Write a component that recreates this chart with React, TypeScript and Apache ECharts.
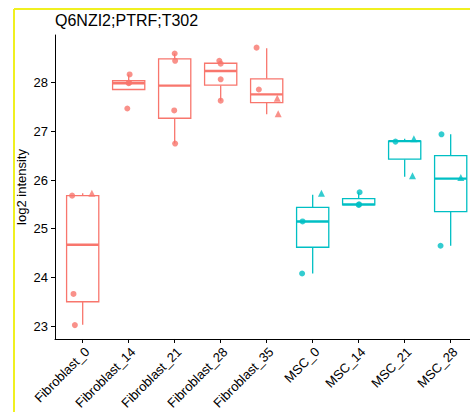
import React, { useEffect, useRef } from "react";
import * as echarts from "echarts";

const categories = [
  "Fibroblast_0", "Fibroblast_14", "Fibroblast_21", "Fibroblast_28", "Fibroblast_35",
  "MSC_0", "MSC_14", "MSC_21", "MSC_28",
];
const groupOf = ["F", "F", "F", "F", "F", "M", "M", "M", "M"];

// box statistics
const boxLow = [23.03, 27.86, 26.75, 27.63, 27.35, 24.08, 25.49, 26.07, 24.65];
const boxQ1 = [23.5, 27.86, 27.27, 27.95, 27.59, 24.62, 25.49, 26.43, 25.35];
const boxMedian = [24.67, 27.99, 27.94, 28.24, 27.76, 25.15, 25.5, 26.8, 26.03];
const boxQ3 = [25.68, 28.04, 28.49, 28.4, 28.08, 25.44, 25.62, 26.8, 26.5];
const boxHigh = [25.73, 28.17, 28.6, 28.45, 28.71, 25.7, 25.75, 26.85, 26.94];

// individual points: [category index, value, horizontal jitter (category units), shape]
const points: [number, number, number, string][] = [
  [0, 25.68, -0.23, "circle"], [0, 25.73, 0.2, "triangle"], [0, 23.66, -0.2, "circle"], [0, 23.02, -0.17, "circle"],
  [1, 28.17, 0.02, "circle"], [1, 27.99, 0.0, "circle"], [1, 28.0, 0.01, "circle"], [1, 27.47, -0.03, "circle"],
  [2, 28.6, 0.0, "circle"], [2, 28.45, 0.01, "circle"], [2, 27.43, -0.01, "circle"], [2, 26.75, 0.01, "circle"],
  [3, 28.45, -0.03, "circle"], [3, 28.39, 0.0, "circle"], [3, 28.07, 0.0, "circle"], [3, 27.63, 0.0, "circle"],
  [4, 28.72, -0.22, "circle"], [4, 27.86, -0.17, "circle"], [4, 27.68, 0.23, "triangle"], [4, 27.36, 0.25, "triangle"],
  [5, 25.73, 0.19, "triangle"], [5, 25.15, -0.22, "circle"], [5, 24.08, -0.23, "circle"],
  [6, 25.75, 0.02, "circle"], [6, 25.5, 0.01, "circle"], [6, 25.49, 0.0, "circle"],
  [7, 26.79, -0.2, "circle"], [7, 26.85, 0.2, "triangle"], [7, 26.09, 0.17, "triangle"],
  [8, 26.94, -0.2, "circle"], [8, 26.05, 0.22, "triangle"], [8, 24.65, -0.22, "circle"],
];

const yTicks = [23, 24, 25, 26, 27, 28];

const RED = "#F8766D";
const TEAL = "#00BFC4";
const FONT = "'Liberation Sans', Arial, sans-serif";

export default function App() {
  const ref = useRef<HTMLDivElement>(null);
  useEffect(() => {
    if (!ref.current) return;
    const chart = echarts.init(ref.current, undefined, { renderer: "svg" });
    const colorOf = (i: number) => (groupOf[i] === "F" ? RED : TEAL);
    const boxData = categories.map((_, i) => [i + 1, boxLow[i], boxQ1[i], boxMedian[i], boxQ3[i], boxHigh[i]]);
    const mkPts = (shape: string) =>
      points
        .filter((p) => p[3] === shape)
        .map((p) => ({ value: [p[0] + 1 + p[2], p[1]], itemStyle: { color: colorOf(p[0]) } }));
    const halfW = 0.35;
    chart.setOption({
      animation: false,
      backgroundColor: "#ffffff",
      textStyle: { fontFamily: FONT },
      title: {
        text: "Q6NZI2;PTRF;T302",
        left: 55,
        top: 12,
        padding: 0,
        textStyle: { fontSize: 16, fontWeight: "normal", color: "#000", fontFamily: FONT },
      },
      grid: { left: 55, right: 0, top: 35, bottom: 71 },
      xAxis: {
        type: "value",
        min: 0.398,
        max: 9.42,
        splitLine: { show: false },
        axisLine: { show: true, lineStyle: { color: "#000", width: 1 } },
        axisTick: { show: true, length: 4, customValues: categories.map((_, i) => i + 1), lineStyle: { color: "#000" } },
        axisLabel: {
          customValues: categories.map((_, i) => i + 1),
          formatter: (v: number) => categories[Math.round(v) - 1] ?? "",
          rotate: 45,
          margin: 6,
          fontSize: 13,
          color: "#000",
          verticalAlign: "top",
          fontFamily: FONT,
        },
      },
      yAxis: {
        type: "value",
        min: 22.735,
        max: 28.98,
        name: "log2 intensity",
        nameLocation: "middle",
        nameGap: 27,
        nameMoveOverlap: false,
        nameTextStyle: { fontSize: 13, color: "#000", fontFamily: FONT },
        splitLine: { show: false },
        axisLine: { show: true, lineStyle: { color: "#000", width: 1 } },
        axisTick: { show: true, length: 4, customValues: yTicks, lineStyle: { color: "#000" } },
        axisLabel: { customValues: yTicks, margin: 7, fontSize: 13, color: "#000", fontFamily: FONT },
      },
      graphic: [
        { type: "line", shape: { x1: 14, y1: 9, x2: 470, y2: 9 }, style: { stroke: "#f0f020", lineWidth: 2 }, z: 100 },
        { type: "line", shape: { x1: 14, y1: 9, x2: 14, y2: 412 }, style: { stroke: "#f0f020", lineWidth: 2 }, z: 100 },
      ],
      series: [
        {
          type: "custom",
          data: boxData,
          encode: { x: 0, y: [1, 2, 3, 4, 5] },
          z: 2,
          renderItem: (params: any, api: any) => {
            const x = api.value(0);
            const idx = params.dataIndex;
            const c = colorOf(idx);
            const lo = api.coord([x, api.value(1)]);
            const q1 = api.coord([x, api.value(2)]);
            const med = api.coord([x, api.value(3)]);
            const q3 = api.coord([x, api.value(4)]);
            const hi = api.coord([x, api.value(5)]);
            const left = api.coord([x - halfW, api.value(3)])[0];
            const right = api.coord([x + halfW, api.value(3)])[0];
            const lw = 1.3;
            return {
              type: "group",
              children: [
                { type: "line", shape: { x1: lo[0], y1: lo[1], x2: q1[0], y2: q1[1] }, style: { stroke: c, lineWidth: lw } },
                { type: "line", shape: { x1: q3[0], y1: q3[1], x2: hi[0], y2: hi[1] }, style: { stroke: c, lineWidth: lw } },
                {
                  type: "rect",
                  shape: { x: left, y: q3[1], width: right - left, height: q1[1] - q3[1] },
                  style: { fill: "#ffffff", stroke: c, lineWidth: lw },
                },
                { type: "line", shape: { x1: left, y1: med[1], x2: right, y2: med[1] }, style: { stroke: c, lineWidth: 2.4 } },
              ],
            };
          },
        },
        {
          type: "scatter",
          data: mkPts("circle"),
          symbol: "circle",
          symbolSize: 6,
          z: 5,
        },
        {
          type: "scatter",
          data: mkPts("triangle"),
          symbol: "triangle",
          symbolSize: 7,
          z: 5,
        },
      ],
    });
    return () => chart.dispose();
  }, []);
  return (
    <div
      ref={ref}
      style={{ position: "fixed", left: 0, top: 0, width: 470, height: 412, background: "#fff" }}
    />
  );
}
